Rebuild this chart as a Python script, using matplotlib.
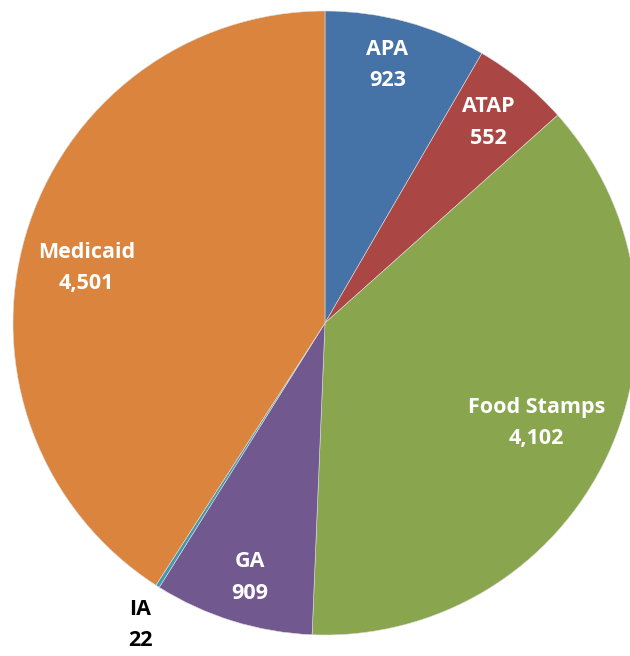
import numpy as np
import matplotlib
matplotlib.use("Agg")
import matplotlib.pyplot as plt

# data
labels = ["APA", "ATAP", "Food Stamps", "GA", "IA", "Medicaid"]
values = [923, 552, 4102, 909, 22, 4501]
colors = ["#4572A7", "#AA4643", "#89A54E", "#71588F", "#4198AF", "#DB843D"]
# label placement: fraction of radius, and a small nudge of the angle (deg)
label_frac = [0.85, 0.83, 0.75, 0.85, 1.135, 0.785]
label_nudge = [1.5, 0, 0, 0.8, 1.0, 3.4]

fig = plt.figure(figsize=(6.3, 6.56), dpi=100)
ax = fig.add_axes([0, 0, 1, 1])

# pixel-ish coordinates, y measured up from the bottom
cx, cy, r = 325, 656 - 323, 312
wedges, _ = ax.pie(values, colors=colors, startangle=90, counterclock=False,
                   center=(cx, cy), radius=r, frame=True,
                   wedgeprops=dict(linewidth=0.4, edgecolor="#dddddd"))
ax.set_xlim(0, 630)
ax.set_ylim(0, 656)
ax.axis("off")

for w, lab, val, f, d in zip(wedges, labels, values, label_frac, label_nudge):
    mid = np.radians((w.theta1 + w.theta2) / 2 + d)
    x = cx + r * f * np.cos(mid)
    y = cy + r * f * np.sin(mid)
    col = "black" if lab == "IA" else "white"
    ax.text(x, y, f"{lab}\n{val:,}", ha="center", va="center", color=col,
            fontsize=15.5, fontweight="bold", family="Open Sans", linespacing=1.65)

fig.savefig("out.png", dpi=100)
